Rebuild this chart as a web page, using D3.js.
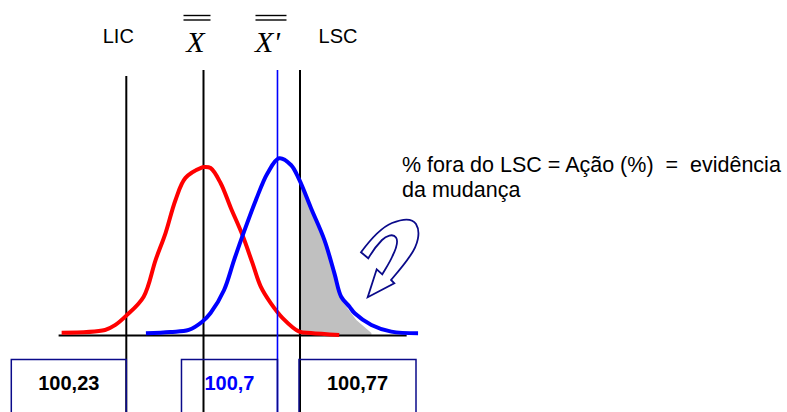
<!DOCTYPE html>
<html>
<head>
<meta charset="utf-8">
<script src="https://cdn.jsdelivr.net/npm/d3@7"></script>
<style>
  html, body { margin: 0; padding: 0; background: #fff; }
  svg { display: block; }
  text { font-family: "Liberation Sans", Arial, sans-serif; }
</style>
</head>
<body>
<svg id="chart" width="787" height="412"></svg>
<script>
// Control limits and process means
const limitValues = [100.23, 100.47, 100.7, 100.77];   // LIC, X̄, X̄', LSC
const limitNames = ["LIC", "X", "X'", "LSC"];
const boxValues = [100.23, 100.7, 100.77];
const axisExtent = [100.018, 101.10];

// Original process distribution (red)
const redX = [100.029, 100.164, 100.196, 100.230, 100.284, 100.321, 100.352, 100.383, 100.414, 100.466,
              100.471, 100.492, 100.523, 100.555, 100.591, 100.622, 100.648, 100.679, 100.716, 100.768,
              100.804, 100.892];
const redY = [0.014, 0.030, 0.060, 0.115, 0.228, 0.446, 0.607, 0.804, 0.935, 0.998,
              1.000, 0.994, 0.905, 0.756, 0.595, 0.429, 0.288, 0.190, 0.101, 0.020,
              0.012, 0.000];

// Shifted process distribution (blue)
const blueX = [100.291, 100.367, 100.424, 100.466, 100.492, 100.534, 100.565, 100.596, 100.633, 100.669,
               100.705, 100.742, 100.768, 100.804, 100.846, 100.877, 100.898, 100.924, 100.940, 100.992,
               101.054, 101.137];
const blueY = [0.010, 0.018, 0.030, 0.079, 0.131, 0.268, 0.446, 0.615, 0.804, 0.963,
               1.052, 1.012, 0.923, 0.756, 0.565, 0.367, 0.228, 0.168, 0.129, 0.060,
               0.020, 0.010];

// Share of the shifted process above LSC
const shadeX = [100.770, 100.770, 100.804, 100.845, 100.876, 100.898, 100.945, 100.992, 100.992];
const shadeY = [0.000, 0.911, 0.744, 0.554, 0.351, 0.208, 0.089, 0.012, 0.000];

const svg = d3.select("#chart");

const x = d3.scaleLinear().domain([100.23, 100.77]).range([126.3, 300]);
const y = d3.scaleLinear().domain([0, 1]).range([335, 167]);

const pts = (xs, ys) => xs.map((v, i) => [v, ys[i]]);

// shaded tail
svg.append("path")
  .datum(pts(shadeX, shadeY))
  .attr("fill", "#c0c0c0")
  .attr("d", d3.area().x(d => x(d[0])).y0(y(0)).y1(d => y(d[1])));

// baseline
const axisScale = d3.scaleLinear().domain(axisExtent).range(axisExtent.map(x));
svg.append("g")
  .attr("transform", `translate(0,${y(0)})`)
  .call(d3.axisBottom(axisScale).tickValues([]).tickSizeOuter(0))
  .call(g => g.select(".domain").attr("stroke", "#000").attr("stroke-width", 2));

// vertical limit lines
const lineTops = [76, 70, 70, 70];
svg.append("g").selectAll("line")
  .data([0, 1, 3])
  .join("line")
  .attr("x1", i => x(limitValues[i])).attr("x2", i => x(limitValues[i]))
  .attr("y1", i => lineTops[i]).attr("y2", 412)
  .attr("stroke", "#000").attr("stroke-width", 2);

const line = d3.line().x(d => x(d[0])).y(d => y(d[1])).curve(d3.curveCatmullRom.alpha(0.5));

svg.append("path")
  .datum(pts(redX, redY))
  .attr("fill", "none").attr("stroke", "#ff0000").attr("stroke-width", 4)
  .attr("stroke-linejoin", "round")
  .attr("d", line);

svg.append("path")
  .datum(pts(blueX, blueY))
  .attr("fill", "none").attr("stroke", "#0000ff").attr("stroke-width", 4)
  .attr("stroke-linejoin", "round")
  .attr("d", line);

// shifted mean line
svg.append("line")
  .attr("x1", x(limitValues[2])).attr("x2", x(limitValues[2]))
  .attr("y1", lineTops[2]).attr("y2", 412)
  .attr("stroke", "#0000ff").attr("stroke-width", 1.6);

// top labels
svg.append("text").attr("x", x(limitValues[0]) - 8).attr("y", 43)
  .attr("text-anchor", "middle").attr("font-size", 20).text(limitNames[0]);
svg.append("text").attr("x", x(limitValues[3]) + 38).attr("y", 43)
  .attr("text-anchor", "middle").attr("font-size", 20).text(limitNames[3]);

const meanLabels = [
  { i: 1, dx: -8, bar: [-20, 7] },
  { i: 2, dx: -10, bar: [-22, 9] }
];
meanLabels.forEach(m => {
  const cx = x(limitValues[m.i]);
  svg.append("text")
    .attr("x", cx + m.dx).attr("y", 52)
    .attr("text-anchor", "middle")
    .style("font-family", "'Liberation Serif', 'Times New Roman', serif")
    .style("font-style", "italic")
    .attr("font-size", 30)
    .text(limitNames[m.i]);
  [15.5, 20].forEach(yy => {
    svg.append("line")
      .attr("x1", cx + m.bar[0]).attr("x2", cx + m.bar[1])
      .attr("y1", yy).attr("y2", yy)
      .attr("stroke", "#000").attr("stroke-width", 1.4);
  });
});

// annotation
const note = svg.append("text").attr("font-size", 21.5).style("white-space", "pre");
note.append("tspan").attr("x", 402).attr("y", 172).text("% fora do LSC = Ação (%)  =  evidência");
note.append("tspan").attr("x", 402).attr("y", 197).text("da mudança");

// curved arrow pointing into the tail
svg.append("path")
  .attr("fill", "#fff").attr("stroke", "#0a0a8a").attr("stroke-width", 1.8)
  .attr("stroke-linejoin", "miter")
  .attr("d", "M361,252.3 C370,240 380,228 392,223 C402,219 412,218 416,224 C421,232 418,245 410,256 C404,265 397,273 391,280 L394.3,283.3 L367.7,297.3 L376.7,269.3 L382.3,274.3 C386,268 390,262 392.5,256 C396,249 399,242 396,237.5 C393,233 386,236 382,240 C376,246 372,252 368.3,258.3 Z");

// value boxes under the limits
const boxDefs = [
  { v: 0, x0: x(boxValues[0]) - 115, x1: x(boxValues[0]), color: "#000" },
  { v: 1, x0: x(boxValues[1]) - 96, x1: x(boxValues[1]), color: "#0000ff" },
  { v: 2, x0: x(boxValues[2]) - 1, x1: x(boxValues[2]) + 116, color: "#000" }
];
const fmt = v => String(v).replace(".", ",");
boxDefs.forEach(b => {
  svg.append("rect")
    .attr("x", b.x0).attr("y", 359.5)
    .attr("width", b.x1 - b.x0).attr("height", 70)
    .attr("fill", "none").attr("stroke", "#0a0a8a").attr("stroke-width", 1.5);
  svg.append("text")
    .attr("x", (b.x0 + b.x1) / 2).attr("y", 390)
    .attr("text-anchor", "middle").attr("font-size", 20).attr("font-weight", "bold")
    .attr("fill", b.color)
    .text(fmt(boxValues[b.v]));
});
</script>
</body>
</html>
